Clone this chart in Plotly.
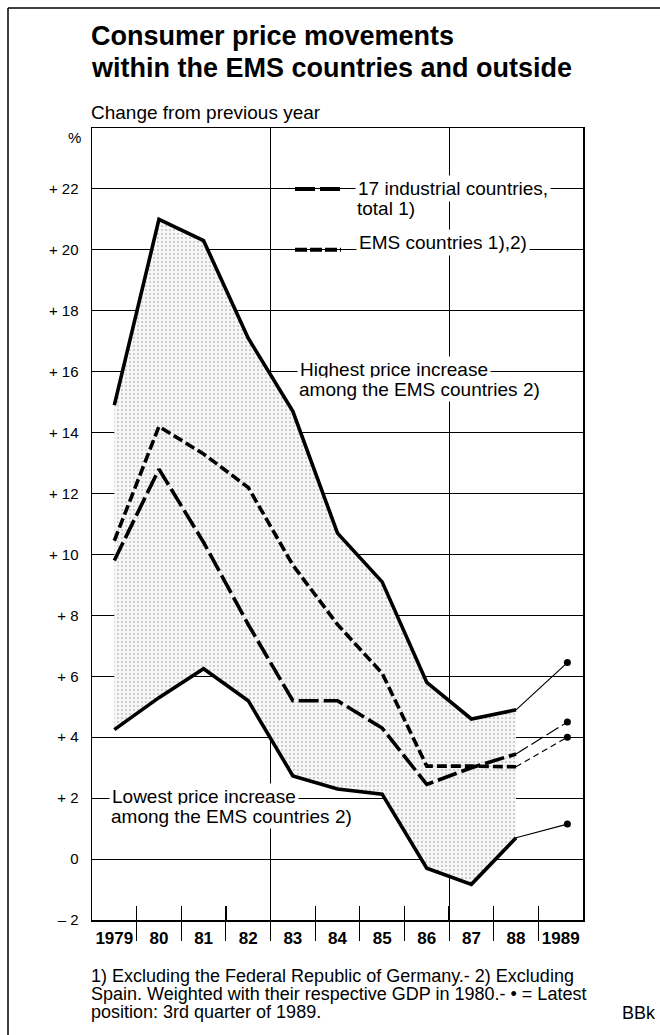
import plotly.graph_objects as go

# ---------------- data ----------------
years = [1979, 1980, 1981, 1982, 1983, 1984, 1985, 1986, 1987, 1988]
highest_ems = [14.9, 21.0, 20.3, 17.1, 14.7, 10.7, 9.1, 5.8, 4.6, 4.9]
ems_countries = [10.45, 14.2, 13.3, 12.2, 9.65, 7.7, 6.1, 3.05, 3.05, 3.03]
industrial_17 = [9.8, 12.8, 10.4, 7.7, 5.2, 5.2, 4.3, 2.45, 3.0, 3.45]
lowest_ems = [4.25, 5.3, 6.25, 5.2, 2.73, 2.3, 2.13, -0.3, -0.83, 0.7]

latest_x = 1989.15  # 3rd quarter of 1989
latest_highest = 6.45
latest_ind17 = 4.5
latest_ems = 4.0
latest_lowest = 1.15

year_labels = ["1979", "80", "81", "82", "83", "84", "85", "86", "87", "88", "1989"]
label_years = list(range(1979, 1990))
boundaries = [y + 0.5 for y in range(1979, 1989)]
grid_boundaries = [1982.5, 1986.5]
y_ticks = list(range(-2, 23, 2))
y_ticktext = [("– 2" if v < 0 else ("0" if v == 0 else "+ %d" % v)) for v in y_ticks]

# ---------------- layout helpers ----------------
W, H = 660, 1035
L, R, T, B = 92, 77, 128, 115
PW, PH = W - L - R, H - T - B
FONT = "Liberation Sans, Arial, Helvetica, sans-serif"


def xp(px):
    return (px - L) / PW


def yp(py):
    return (H - B - py) / PH


fig = go.Figure()

# shaded band between highest and lowest
fig.add_trace(go.Scatter(x=years, y=lowest_ems, mode="lines", line=dict(width=0),
                         showlegend=False, hoverinfo="skip"))
fig.add_trace(go.Scatter(x=years, y=highest_ems, mode="lines", line=dict(width=0),
                         fill="tonexty", fillcolor="#efefef",
                         fillpattern=dict(shape=".", fgcolor="#8a8a8a", bgcolor="#f7f7f7",
                                          size=4, solidity=0.2),
                         showlegend=False, hoverinfo="skip"))

THICK = 3.6
fig.add_trace(go.Scatter(x=years, y=highest_ems, mode="lines",
                         line=dict(color="black", width=THICK), showlegend=False))
fig.add_trace(go.Scatter(x=years, y=lowest_ems, mode="lines",
                         line=dict(color="black", width=THICK), showlegend=False))
fig.add_trace(go.Scatter(x=years, y=ems_countries, mode="lines",
                         line=dict(color="black", width=THICK, dash="10px,4px"), showlegend=False))
fig.add_trace(go.Scatter(x=years, y=industrial_17, mode="lines",
                         line=dict(color="black", width=THICK, dash="20px,5px"), showlegend=False))

# thin extensions to the latest position
ext = [
    (highest_ems[-1], latest_highest, "solid"),
    (lowest_ems[-1], latest_lowest, "solid"),
    (industrial_17[-1], latest_ind17, "14px,4px"),
    (ems_countries[-1], latest_ems, "6px,4px"),
]
for y0, y1, d in ext:
    fig.add_trace(go.Scatter(x=[years[-1], latest_x], y=[y0, y1], mode="lines",
                             line=dict(color="black", width=1.2, dash=d), showlegend=False))
fig.add_trace(go.Scatter(x=[latest_x] * 4,
                         y=[latest_highest, latest_ind17, latest_ems, latest_lowest],
                         mode="markers", marker=dict(color="black", size=7), showlegend=False))

# invisible carriers so that the overlay axes (ticks / labels) are drawn
for ax in ["x2", "x3", "x4"]:
    fig.add_trace(go.Scatter(x=years, y=lowest_ems, xaxis=ax, yaxis="y", mode="lines",
                             line=dict(width=0), opacity=0, hoverinfo="skip", showlegend=False))

xr = [1978.5, 1989.5]
fig.update_layout(
    width=W, height=H,
    margin=dict(l=L, r=R, t=T, b=B),
    paper_bgcolor="white", plot_bgcolor="white",
    font=dict(family=FONT, color="black"),
    xaxis=dict(range=xr, tickvals=grid_boundaries, showticklabels=False, ticks="",
               showgrid=True, gridcolor="black", gridwidth=1,
               showline=True, linecolor="black", linewidth=1.5, mirror=True,
               zeroline=False, fixedrange=True),
    xaxis2=dict(range=xr, overlaying="x", anchor="y", side="bottom",
                tickvals=boundaries, ticks="outside", ticklen=20, tickwidth=1, tickcolor="black",
                showticklabels=False, showgrid=False, showline=False, zeroline=False),
    xaxis3=dict(range=xr, overlaying="x", anchor="y", side="bottom",
                tickvals=boundaries, ticks="inside", ticklen=14, tickwidth=1.2, tickcolor="black",
                showticklabels=False, showgrid=False, showline=False, zeroline=False),
    xaxis4=dict(range=xr, overlaying="x", anchor="y", side="bottom",
                tickvals=label_years, ticktext=year_labels, ticks="",
                tickfont=dict(family=FONT, size=17, color="black", weight="bold"),
                ticklabelstandoff=6,
                showgrid=False, showline=False, zeroline=False),
    yaxis=dict(range=[-2, 24], tickvals=y_ticks, ticktext=y_ticktext,
               ticks="inside", ticklen=18, tickwidth=1, tickcolor="black",
               tickfont=dict(family=FONT, size=15, color="black"),
               ticklabelstandoff=9,
               showgrid=True, gridcolor="black", gridwidth=1,
               showline=True, linecolor="black", linewidth=1.5, mirror=True,
               zeroline=False, fixedrange=True),
)

ann = []


def text(px, y, s, size=19, yref="paper", bold=False, xanchor="left", bg=None, pad=1):
    d = dict(x=xp(px), xref="paper", y=y, yref=yref, text=s, showarrow=False,
             xanchor=xanchor, yanchor="middle",
             font=dict(family=FONT, size=size, color="black", weight="bold" if bold else "normal"),
             borderpad=pad)
    if bg:
        d["bgcolor"] = bg
    ann.append(d)


# title & subtitle
text(89, yp(36), "Consumer price movements", size=27, bold=True)
text(89, yp(68), "within the EMS countries and outside", size=27, bold=True)
text(89, yp(113), "Change from previous year", size=19)
text(83, yp(137), "%", size=15, xanchor="right")

# in-chart labels (white boxes hide the grid like the original)
text(355, 22, "17 industrial countries,", yref="y", bg="white", pad=2)
text(355, 21.36, "total 1)", yref="y", bg="white", pad=1)
text(356, 20.25, "EMS countries 1),2)", yref="y", bg="white", pad=2)
text(297, 16.08, "Highest price increase", yref="y", bg="white", pad=2)
text(297, 15.42, "among the EMS countries 2)", yref="y", bg="white", pad=1)
text(109, 2.05, "Lowest price increase", yref="y", bg="white", pad=2)
text(109, 1.40, "among the EMS countries 2)", yref="y", bg="white", pad=1)

# footnotes
text(89, yp(976), "1) Excluding the Federal Republic of Germany.- 2) Excluding", size=18)
text(89, yp(994), "Spain. Weighted with their respective GDP in 1980.- • = Latest", size=18)
text(89, yp(1012), "position: 3rd quarter of 1989.", size=18)
text(620, yp(1013), "BBk", size=18)

fig.update_layout(annotations=ann)

shapes = [
    # legend samples
    dict(type="line", xref="paper", yref="y", x0=xp(295), x1=xp(341), y0=22, y1=22,
         line=dict(color="black", width=4, dash="20px,5px")),
    dict(type="line", xref="paper", yref="y", x0=xp(295), x1=xp(341), y0=20, y1=20,
         line=dict(color="black", width=4, dash="12px,3px")),
    # outer frame (left and top)
    dict(type="line", xref="paper", yref="paper", x0=xp(8), x1=xp(8), y0=yp(8), y1=yp(1035),
         line=dict(color="black", width=1.5)),
    dict(type="line", xref="paper", yref="paper", x0=xp(8), x1=xp(660), y0=yp(8), y1=yp(8),
         line=dict(color="black", width=1.5)),
]
fig.update_layout(shapes=shapes)

fig.write_html("out.html", config={"displayModeBar": False, "staticPlot": True},
               post_script="document.body.style.margin='0';document.body.style.overflow='hidden';")
